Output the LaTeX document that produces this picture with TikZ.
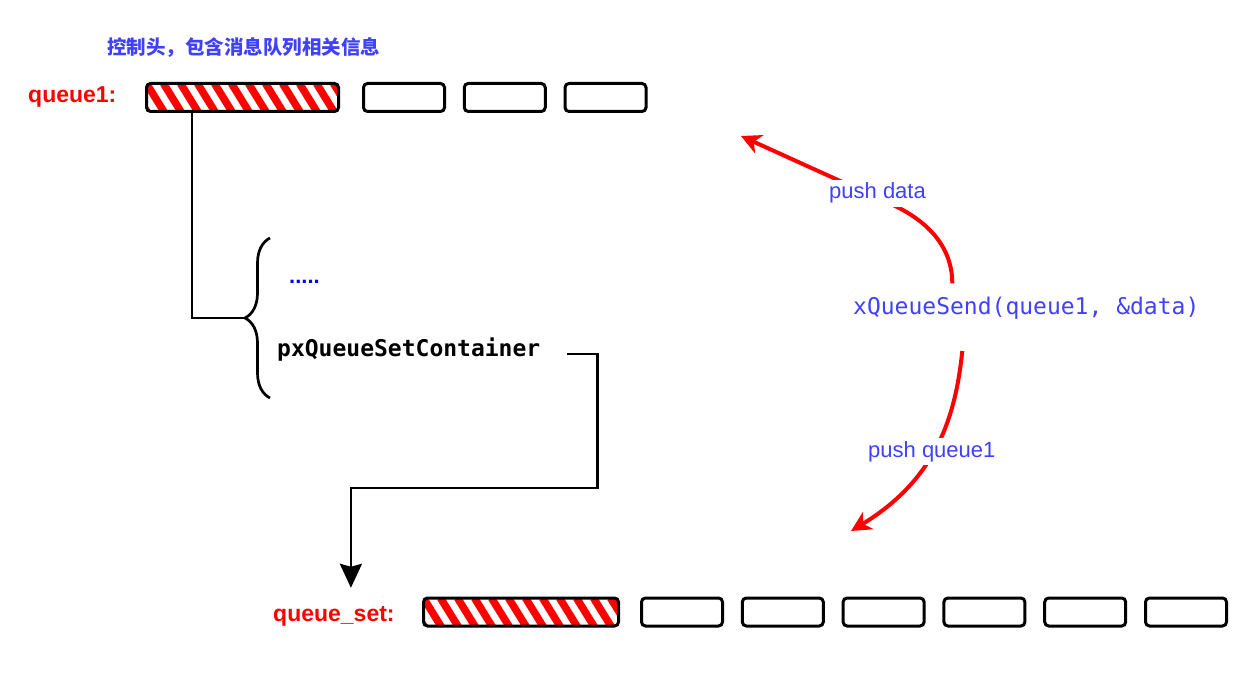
\documentclass[tikz,border=0pt]{standalone}
\usepackage{fontspec}
\setmainfont{Liberation Sans}
\setmonofont{DejaVu Sans Mono}
\newfontfamily\cjkfont{Noto Sans CJK SC}
\usetikzlibrary{arrows.meta,decorations.pathreplacing}
\definecolor{noteblue}{RGB}{64,64,255}
\definecolor{labelred}{RGB}{255,0,0}
\begin{document}
\begin{tikzpicture}[
  x=1pt,y=-1pt,every node/.style={inner sep=0pt},
  cell/.style={draw,line width=3pt,rounded corners=4pt,
    minimum width=81pt,minimum height=28pt},
  head/.style={cell,minimum width=#1,path picture={
      \foreach \k in {-2,...,12}
        \draw[labelred,line width=7.5pt]
          ([xshift=\k*17pt]path picture bounding box.north west) -- ++(21pt,-34pt);}},
  qname/.style={font=\bfseries\fontsize{23}{27}\selectfont,text=labelred},
  note/.style={font=\fontsize{22}{26}\selectfont,text=noteblue,fill=white,inner sep=3pt},
  code/.style={font=\ttfamily\fontsize{23}{27}\selectfont},
  boldcode/.style={font=\ttfamily\bfseries\fontsize{23}{27}\selectfont},
  link/.style={line width=2.7pt},
  pusharrow/.style={draw=labelred,line width=4pt,
    -{Stealth[length=20pt,width=20pt,inset=6pt]}}]
  \useasboundingbox (0,0) rectangle (1258,700);

  % queue1 with its control head
  \node[anchor=base west,text=noteblue,
    font=\cjkfont\bfseries\fontsize{19.5}{23}\selectfont] (ctrlnote) at (107,55)
    {控制头，包含消息队列相关信息};
  \node[qname,anchor=base west] (q1label) at (28,103) {queue1:};
  \node[head=192pt] (q1h) at (242.5,97.5) {};
  \foreach \i in {1,2,3}
    \node[cell] (q1c\i) at ({404+(\i-1)*100.75},97.5) {};

  % fields of the head
  \coordinate (brtip) at (245,318);
  \draw[link] ([xshift=-50.5pt]q1h.south) |- (brtip);
  \draw[link,decorate,decoration={brace,amplitude=25pt}] (270,398) -- (270,238);
  \node[anchor=base west,text=blue,font=\bfseries\fontsize{22}{26}\selectfont]
    (dots) at (289,284) {.....};
  \node[boldcode,anchor=base west] (psc) at (277,357) {pxQueueSetContainer};

  % queue_set
  \node[qname,anchor=base west] (qslabel) at (273,621) {queue\_set:};
  \node[head=195pt] (qsh) at (521,612) {};
  \foreach \i in {1,...,6}
    \node[cell] (qsc\i) at ({682+(\i-1)*100.8},612) {};
  \draw[link,-{Stealth[length=24pt,width=22pt,inset=3pt]}]
    ([xshift=26pt,yshift=-4pt]psc.east) -| ++(31,134)
    -| ([xshift=17pt,yshift=18pt]qslabel.north);

  % the call and what it pushes
  \node[code,anchor=base west,text=noteblue] (xqs) at (853,315) {xQueueSend(queue1, \&data)};
  \coordinate (dataend) at (741,136);
  \coordinate (setend) at (851,531);
  \draw[pusharrow] ([xshift=-74pt,yshift=14pt]xqs.north)
    .. controls +(0,-40) and (923,219) .. (893,205) -- (dataend);
  \draw[pusharrow] ([xshift=-64pt,yshift=-31pt]xqs.south)
    .. controls +(-7,68) and (935,480) .. (setend);
  \node[note,anchor=base west] (pushdata) at (826,199) {push data};
  \node[note,anchor=base west] (pushq) at (865,457) {push queue1};
\end{tikzpicture}
\end{document}
